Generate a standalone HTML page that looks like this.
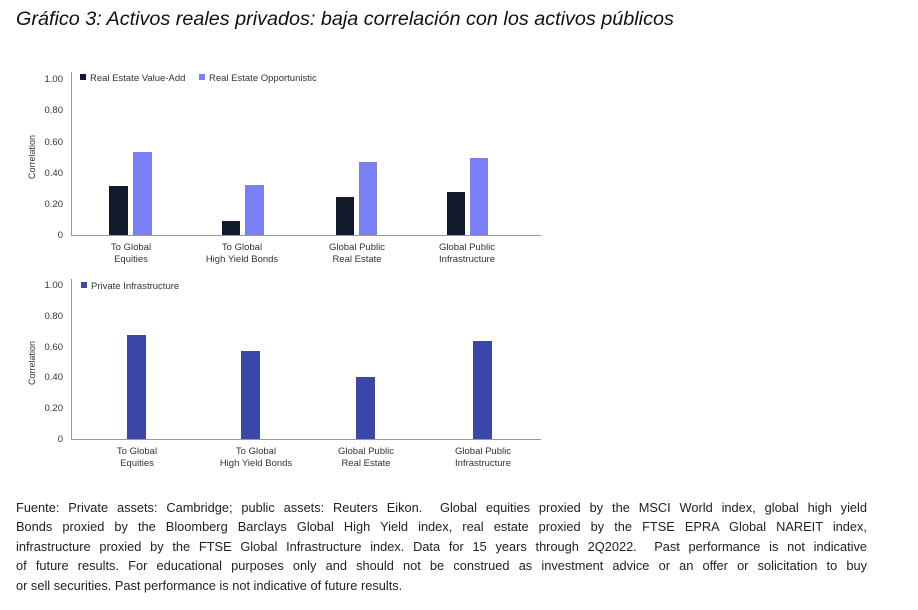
<!DOCTYPE html>
<html><head><meta charset="utf-8"><style>
body{margin:0;width:918px;height:610px;background:#fff;font-family:"Liberation Sans",sans-serif;position:relative;overflow:hidden}
.t{position:absolute;left:16px;top:8px;font-style:italic;font-size:19.8px;color:#111;white-space:nowrap}
.f{position:absolute;left:16px;top:498px;width:851px;font-size:12.8px;line-height:19.4px;color:#222}
.f div{text-align:justify;text-align-last:justify;white-space:nowrap}
.f div.l{text-align-last:left}
svg text{font-family:"Liberation Sans",sans-serif;fill:#333}
</style></head><body>
<div class="t">Gráfico 3: Activos reales privados: baja correlación con los activos públicos</div>
<svg width="918" height="490" style="position:absolute;left:0;top:0">
<g font-size="9.5" text-anchor="end">
<text x="63" y="82">1.00</text><text x="63" y="113">0.80</text><text x="63" y="145">0.60</text><text x="63" y="176">0.40</text><text x="63" y="207">0.20</text><text x="63" y="238">0</text>
<text x="63" y="288">1.00</text><text x="63" y="319">0.80</text><text x="63" y="350">0.60</text><text x="63" y="380">0.40</text><text x="63" y="411">0.20</text><text x="63" y="442">0</text>
</g>
<text font-size="9" transform="translate(35,157) rotate(-90)" text-anchor="middle">Correlation</text>
<text font-size="9" transform="translate(35,363) rotate(-90)" text-anchor="middle">Correlation</text>
<path d="M71.5 72V235.5H541M71.5 279V439.5H541" stroke="#999" fill="none"/>
<rect x="80" y="74" width="6" height="6" fill="#111a2a"/><text x="90" y="81" font-size="9.5">Real Estate Value-Add</text>
<rect x="199" y="74" width="6" height="6" fill="#7b7ff5"/><text x="209" y="81" font-size="9.5">Real Estate Opportunistic</text>
<g fill="#111a2a"><rect x="109" y="186" width="19" height="49"/><rect x="222" y="221" width="18" height="14"/><rect x="336" y="197" width="18" height="38"/><rect x="447" y="192" width="18" height="43"/></g>
<g fill="#7b7ff5"><rect x="133" y="152" width="19" height="83"/><rect x="245" y="185" width="19" height="50"/><rect x="359" y="162" width="18" height="73"/><rect x="470" y="158" width="18" height="77"/></g>
<g font-size="9.5" text-anchor="middle">
<text x="131" y="250">To Global</text><text x="131" y="262">Equities</text>
<text x="242" y="250">To Global</text><text x="242" y="262">High Yield Bonds</text>
<text x="357" y="250">Global Public</text><text x="357" y="262">Real Estate</text>
<text x="467" y="250">Global Public</text><text x="467" y="262">Infrastructure</text>
<text x="137" y="454">To Global</text><text x="137" y="466">Equities</text>
<text x="256" y="454">To Global</text><text x="256" y="466">High Yield Bonds</text>
<text x="366" y="454">Global Public</text><text x="366" y="466">Real Estate</text>
<text x="483" y="454">Global Public</text><text x="483" y="466">Infrastructure</text>
</g>
<rect x="81" y="282" width="6" height="6" fill="#3a46a8"/><text x="91" y="289" font-size="9.5">Private Infrastructure</text>
<g fill="#3a46a8"><rect x="127" y="335" width="19" height="104"/><rect x="241" y="351" width="19" height="88"/><rect x="356" y="377" width="19" height="62"/><rect x="473" y="341" width="19" height="98"/></g>
</svg>
<div class="f">
<div>Fuente: Private assets: Cambridge; public assets: Reuters Eikon.&nbsp; Global equities proxied by the MSCI World index, global high yield</div>
<div>Bonds proxied by the Bloomberg Barclays Global High Yield index, real estate proxied by the FTSE EPRA Global NAREIT index,</div>
<div>infrastructure proxied by the FTSE Global Infrastructure index. Data for 15 years through 2Q2022.&nbsp; Past performance is not indicative</div>
<div>of future results. For educational purposes only and should not be construed as investment advice or an offer or solicitation to buy</div>
<div class="l">or sell securities. Past performance is not indicative of future results.</div>
</div>
</body></html>
